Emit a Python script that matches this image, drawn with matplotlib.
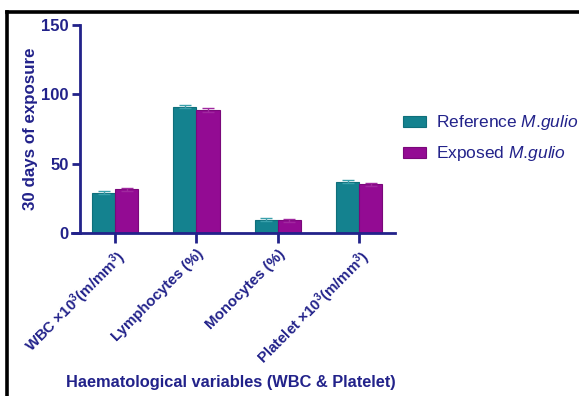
import matplotlib
matplotlib.use("Agg")
import matplotlib.pyplot as plt
import numpy as np
from matplotlib.lines import Line2D

plt.rcParams['font.family'] = ['Liberation Sans', 'DejaVu Sans']
plt.rcParams['font.weight'] = 'bold'
plt.rcParams['mathtext.fontset'] = 'custom'
plt.rcParams['mathtext.rm'] = 'Liberation Sans:weight=normal'
plt.rcParams['mathtext.it'] = 'Liberation Sans:style=italic:weight=normal'
plt.rcParams['mathtext.bf'] = 'Liberation Sans:weight=bold'

categories = ["WBC ×10$^{\\mathbf{3}}$(m/mm$^{\\mathbf{3}}$)", "Lymphocytes (%)", "Monocytes (%)",
              "Platelet ×10$^{\\mathbf{3}}$(m/mm$^{\\mathbf{3}}$)"]
reference = [29.1, 91.1, 9.6, 37.0]
reference_err = [1.0, 1.3, 1.2, 1.2]
exposed = [31.5, 88.7, 9.1, 35.1]
exposed_err = [0.9, 1.3, 1.3, 1.1]
series_labels = ["Reference $\\mathit{M}$.$\\mathit{gulio}$", "Exposed $\\mathit{M}$.$\\mathit{gulio}$"]
yticks = [0, 50, 100, 150]

navy = '#22228a'
teal = '#14828f'
magenta = '#930b93'

fig = plt.figure(figsize=(5.79, 3.96), dpi=100)
ax = fig.add_axes([72/579, 1-233/396, (395-72)/579, (233-25)/396])

x = np.arange(len(categories))
w = 0.285
ax.bar(x - w/2, reference, w, color=teal, edgecolor='#0f6f7b', linewidth=0.8,
       label=series_labels[0], zorder=2)
ax.bar(x + w/2, exposed, w, color=magenta, edgecolor='#7a087a', linewidth=0.8,
       label=series_labels[1], zorder=2)
ax.errorbar(x - w/2, reference, yerr=reference_err, fmt='none', ecolor='#3aa0ab',
            elinewidth=1, capsize=4, capthick=1, zorder=3)
ax.errorbar(x + w/2, exposed, yerr=exposed_err, fmt='none', ecolor='#a0289f',
            elinewidth=1, capsize=4, capthick=1, zorder=3)

ax.set_xlim(-0.53, 3.44)
ax.set_ylim(0, 150)
ax.set_yticks(yticks)
ax.set_xticks(x)
ax.tick_params(axis='y', color=navy, labelcolor=navy, labelsize=12, width=2, length=6, pad=2)
ax.tick_params(axis='x', color=navy, labelcolor=navy, width=2, length=7, pad=3)
ax.set_yticklabels([str(v) for v in yticks], fontweight='bold', fontsize=12, color=navy)
ax.set_xticklabels(categories, rotation=45, ha='right', rotation_mode='anchor',
                   fontweight='bold', fontsize=10.8, color=navy)

for s in ['top', 'right']:
    ax.spines[s].set_visible(False)
for s in ['left', 'bottom']:
    ax.spines[s].set_color(navy)
    ax.spines[s].set_linewidth(2)
ax.spines['left'].set_position(('axes', 8/323))
ax.spines['left'].set_bounds(0, 150)

ax.set_ylabel('30 days of exposure', fontsize=12.2, fontweight='bold', color=navy, labelpad=2)
fig.text(231/579, 1-382/396, 'Haematological variables (WBC & Platelet)', ha='center', va='center',
         fontsize=11.8, fontweight='bold', color=navy)

leg = ax.legend(loc='upper left', bbox_to_anchor=(391/579, 1-101/396), bbox_transform=fig.transFigure,
                frameon=False, prop={'size': 12.5, 'weight': 'normal'}, labelcolor=navy,
                handlelength=1.3, handleheight=0.6,
                labelspacing=0.7, handletextpad=0.6, borderpad=0.2)

# figure border (top and left)
fig.add_artist(Line2D([7/579, 1], [1-12/396, 1-12/396], transform=fig.transFigure, color='black', lw=2.6))
fig.add_artist(Line2D([7/579, 7/579], [0, 1-12/396], transform=fig.transFigure, color='black', lw=2.6))

fig.savefig('out.png', dpi=100)
